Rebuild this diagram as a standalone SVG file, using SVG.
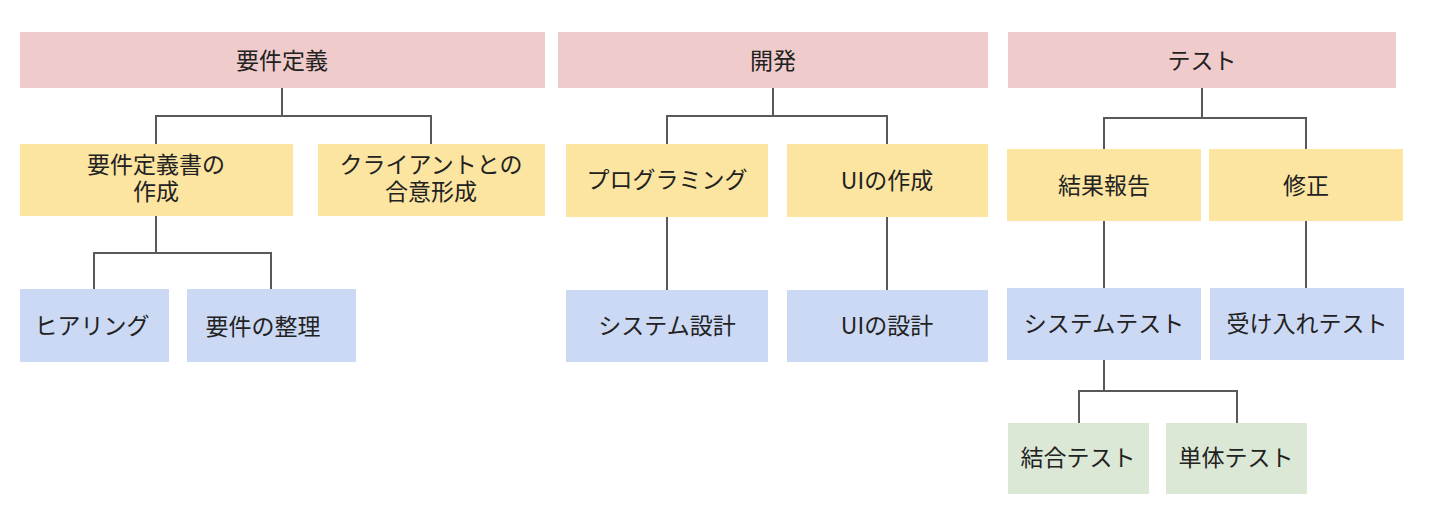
<svg xmlns="http://www.w3.org/2000/svg" width="1430" height="524" viewBox="0 0 1430 524">
<style>
.l1{fill:#f0cbcb}
.l2{fill:#fce5a1}
.l3{fill:#ccd9f4}
.l4{fill:#dce8d6}
text{font-family:"Noto Sans CJK JP","Noto Sans",sans-serif;font-size:23px;fill:#222;text-anchor:middle;dominant-baseline:central}
text.m{font-family:"Liberation Sans","Noto Sans CJK JP",sans-serif}
.c{fill:none;stroke:#595959;stroke-width:2}
</style>
<rect width="1430" height="524" fill="#fff"/>
<g id="connectors">
<path class="c" d="M282 88V116M156 144V116H431V144"/>
<path class="c" d="M156 216V253M94 289V253H271V289"/>
<path class="c" d="M773 88V116M667 144V116H887V144"/>
<path class="c" d="M667 217V290"/>
<path class="c" d="M887 217V290"/>
<path class="c" d="M1202 88V118M1104 149V118H1306V149"/>
<path class="c" d="M1104 221V288"/>
<path class="c" d="M1306 221V288"/>
<path class="c" d="M1104 360V391M1079 423V391H1237V423"/>
</g>
<g id="n-youken"><rect class="l1" x="20" y="32" width="525" height="56"/><text x="282" y="59">要件定義</text></g>
<g id="n-kaihatsu"><rect class="l1" x="558" y="32" width="430" height="56"/><text x="773" y="59">開発</text></g>
<g id="n-test"><rect class="l1" x="1008" y="32" width="388" height="56"/><text x="1202" y="59">テスト</text></g>
<g id="n-sakusei"><rect class="l2" x="20" y="144" width="273" height="72"/><text class="m" x="156" y="165">要件定義書の</text><text class="m" x="156" y="192">作成</text></g>
<g id="n-goui"><rect class="l2" x="318" y="144" width="227" height="72"/><text class="m" x="431" y="165">クライアントとの</text><text class="m" x="431" y="192">合意形成</text></g>
<g id="n-prog"><rect class="l2" x="566" y="144" width="202" height="73"/><text x="667" y="178">プログラミング</text></g>
<g id="n-ui"><rect class="l2" x="787" y="144" width="201" height="73"/><text x="887" y="179">UIの作成</text></g>
<g id="n-kekka"><rect class="l2" x="1007" y="149" width="194" height="72"/><text x="1104" y="184">結果報告</text></g>
<g id="n-shusei"><rect class="l2" x="1209" y="149" width="194" height="72"/><text x="1306" y="184">修正</text></g>
<g id="n-hearing"><rect class="l3" x="20" y="289" width="149" height="73"/><text x="92" y="324">ヒアリング</text></g>
<g id="n-seiri"><rect class="l3" x="187" y="289" width="169" height="73"/><text x="263" y="325">要件の整理</text></g>
<g id="n-sysdesign"><rect class="l3" x="566" y="290" width="202" height="72"/><text x="667" y="324">システム設計</text></g>
<g id="n-uidesign"><rect class="l3" x="787" y="290" width="201" height="72"/><text x="887" y="324">UIの設計</text></g>
<g id="n-systest"><rect class="l3" x="1007" y="288" width="194" height="72"/><text x="1104" y="322">システムテスト</text></g>
<g id="n-ukeire"><rect class="l3" x="1210" y="288" width="194" height="72"/><text x="1307" y="322">受け入れテスト</text></g>
<g id="n-ketsugo"><rect class="l4" x="1008" y="423" width="141" height="71"/><text x="1078" y="456">結合テスト</text></g>
<g id="n-tantai"><rect class="l4" x="1166" y="423" width="141" height="71"/><text x="1236" y="456">単体テスト</text></g>
</svg>
